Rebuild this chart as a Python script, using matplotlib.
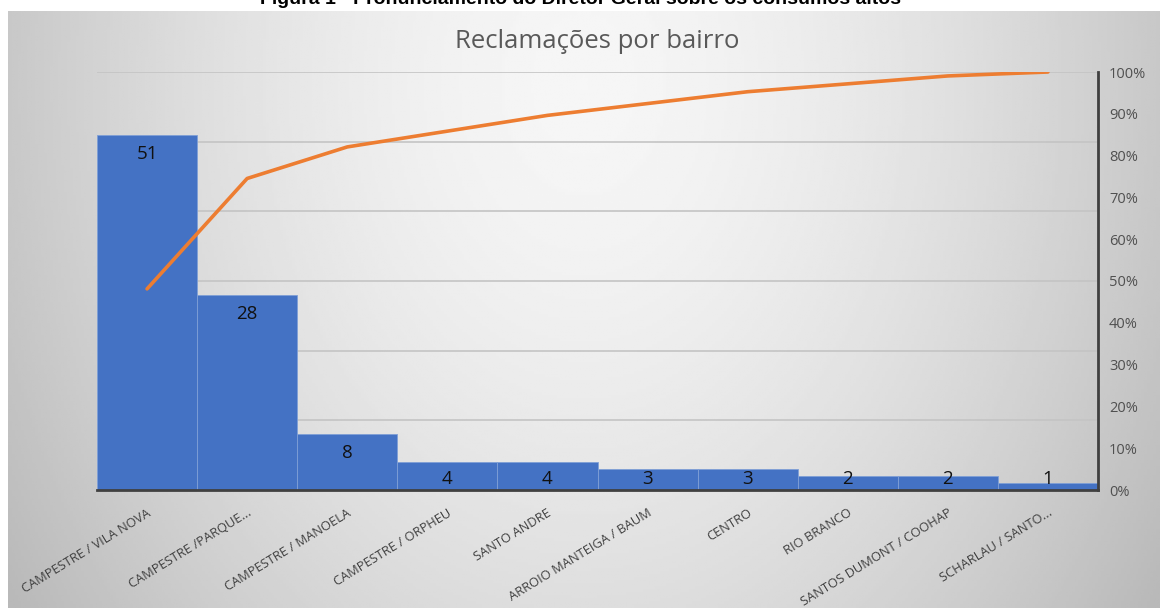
import numpy as np
import matplotlib
matplotlib.use("Agg")
import matplotlib.pyplot as plt
import matplotlib.transforms as mtransforms
from matplotlib.ticker import PercentFormatter

plt.rcParams['font.family'] = ['Open Sans', 'DejaVu Sans']

# --- Dados ---
bairros = ['CAMPESTRE / VILA NOVA', 'CAMPESTRE /PARQUE...', 'CAMPESTRE / MANOELA',
           'CAMPESTRE / ORPHEU', 'SANTO ANDRE', 'ARROIO MANTEIGA / BAUM', 'CENTRO',
           'RIO BRANCO', 'SANTOS DUMONT / COOHAP', 'SCHARLAU / SANTO...']
reclamacoes = [51, 28, 8, 4, 4, 3, 3, 2, 2, 1]
pct_ticks = [0, 10, 20, 30, 40, 50, 60, 70, 80, 90, 100]

W, H = 1160, 608
fig = plt.figure(figsize=(W / 100, H / 100), dpi=100)
fig.patch.set_facecolor('white')

# --- Fundo em degradê (estilo Excel) ---
bg = fig.add_axes([8 / W, 0, 1 - 8 / W, 1 - 11 / H])
gx, gy = np.meshgrid(np.linspace(-1, 1, 400), np.linspace(0, 1, 200))
r = np.sqrt((gx / 1.0) ** 2 + ((gy - 0.12) / 1.3) ** 2)
shade = 0.965 - 0.18 * np.clip(r, 0, 1.2) ** 1.6
bg.imshow(shade, cmap='gray', vmin=0, vmax=1, aspect='auto', extent=[0, 1, 0, 1], origin='upper')
bg.axis('off')

fig.text(0.5, 1.0, 'Figura 1 - Pronunciamento do Diretor Geral sobre os consumos altos',
         ha='center', va='center', fontsize=14, fontweight='bold', family='Liberation Sans')

# --- Gráfico de Pareto ---
ax = fig.add_axes([97 / W, 1 - 490 / H, (1098 - 97) / W, (490 - 72) / H])
ax.patch.set_alpha(0)
x = np.arange(len(bairros))
ax.bar(x, reclamacoes, width=1.0, color='#4472C4', edgecolor='#7f9fd6', linewidth=0.6, zorder=2)
ax.set_xlim(-0.5, len(bairros) - 0.5)
ax.set_ylim(0, 60)
ax.set_yticks(range(0, 61, 10))
ax.yaxis.grid(True, color='#c4c4c4', linewidth=1.2, zorder=0)
for s in ['top', 'left', 'right']:
    ax.spines[s].set_visible(False)
ax.spines['bottom'].set_color('#404040')
ax.spines['bottom'].set_linewidth(2)
ax.spines['bottom'].set_zorder(5)

# rótulos das categorias, girados como no Excel (fim do texto sob o centro da barra)
ax.set_xticks(x)
ax.set_xticklabels([])
base = mtransforms.blended_transform_factory(ax.transData, ax.transAxes)
shift = mtransforms.ScaledTranslation(3 / 100, -22 / 100, fig.dpi_scale_trans)
for xi, nome in zip(x, bairros):
    ax.text(xi, 0, nome, transform=base + shift, rotation=31.5, ha='right', va='center',
            rotation_mode='anchor', fontsize=9.3, color='#404040', clip_on=False)

for xi, v in zip(x, reclamacoes):
    ax.text(xi, max(v - 1.45, 2.9), str(v), ha='center', va='top', fontsize=13.5,
            color='#111111', zorder=4)

ax.set_title('Reclamações por bairro', fontsize=18.5, color='#595959', pad=17)

# --- Percentual acumulado ---
ax2 = ax.twinx()
acumulado = np.cumsum(reclamacoes) / np.sum(reclamacoes) * 100
ax2.plot(x, acumulado, color='#ED7D31', linewidth=2.6, solid_capstyle='round', zorder=6)
ax2.set_ylim(0, 100)
ax2.set_yticks(pct_ticks)
ax2.yaxis.set_major_formatter(PercentFormatter(decimals=0))
ax2.tick_params(axis='y', length=0, pad=8, labelsize=10.5, labelcolor='#505050')
for s in ['top', 'left', 'bottom']:
    ax2.spines[s].set_visible(False)
ax2.spines['right'].set_color('#404040')
ax2.spines['right'].set_linewidth(2)

ax.tick_params(axis='y', left=False, right=False, labelleft=False, labelright=False)
ax.tick_params(axis='x', length=0, pad=0)

fig.savefig('out.png', dpi=100)
